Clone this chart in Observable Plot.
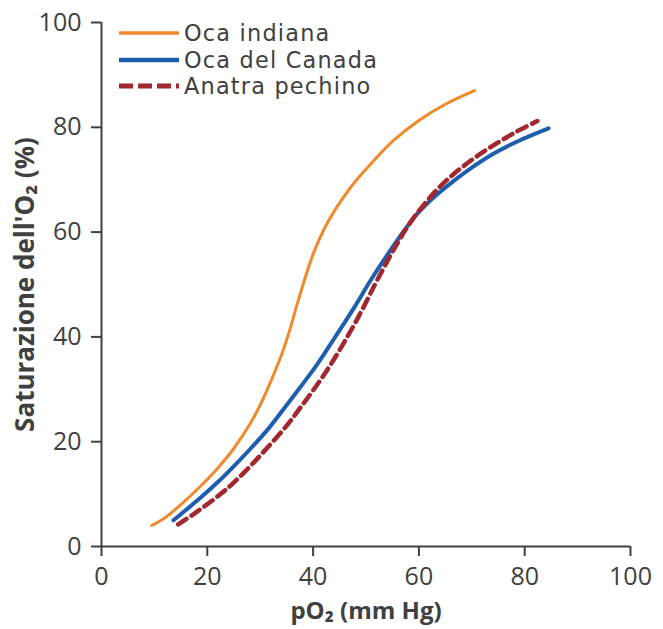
<!DOCTYPE html>
<html>
<head>
<meta charset="utf-8">
<script src="https://cdn.jsdelivr.net/npm/d3@7"></script>
<script src="https://cdn.jsdelivr.net/npm/@observablehq/plot@0.6"></script>
<style>
  html, body { margin: 0; padding: 0; background: #fff; }
  #wrap { position: relative; width: 663px; height: 629px; font-family: "Open Sans", sans-serif; }
  #wrap svg { font-family: "Open Sans", sans-serif; }
  #wrap [aria-label="x-axis label"] text, #wrap [aria-label="y-axis label"] text { font-weight: bold; }
  #legend { position: absolute; left: 118px; top: 20px; font-family: "DejaVu Sans", sans-serif; font-size: 22.4px; letter-spacing: 1.2px; color: #404040; line-height: 26.5px; }
  #legend .row { display: flex; align-items: center; height: 26.5px; }
  #legend svg { margin-right: 4px; }
</style>
</head>
<body>
<div id="wrap"><div id="legend"></div></div>
<script>
const xTicks = [0, 20, 40, 60, 80, 100];
const yTicks = [0, 20, 40, 60, 80, 100];
const seriesNames = ["Oca indiana", "Oca del Canada", "Anatra pechino"];

const ocaIndiana = [[9.5,4],[12,5.5],[15,8],[18.7,11.5],[22,15],[25,18.7],[28.2,23.6],[30,27],[32,31.5],[34,36.5],[35.5,41],[37,46.3],[38.5,51.3],[40,55.8],[42,60.4],[44,64],[46,67],[48,69.7],[50,72],[55,77.3],[60,81.3],[65,84.4],[70.5,87]];
const ocaCanada = [[13.6,5],[16,7],[18.7,9.3],[21.9,12.2],[25,15.3],[28.2,18.7],[31.4,22.3],[34.4,26.2],[37.5,30.3],[40.8,34.8],[44,39.7],[47.7,45.5],[51,51],[54.6,56.5],[57,60],[59.7,63.5],[63,66.8],[66,69.3],[70,72.3],[74,74.9],[78.6,77.3],[84.5,79.8]];
const anatraPechino = [[14.5,4.2],[18,6.6],[22.5,10],[25,12.2],[28,15.2],[31.3,18.8],[35.2,23.3],[37.6,26.5],[40.5,30.5],[43.5,35],[47.7,42.2],[50.2,47],[52.1,50.8],[55.9,57.8],[58.5,62],[61,65.3],[64,68.7],[67.2,71.6],[71,74.5],[74.8,77],[78.5,79.2],[82.4,81.2]];

const colors = ["#F08A2C", "#1E5EAE", "#A0282E"];
const widths = [3, 4, 4.5];
const dashes = [null, null, "10,6"];

const toRows = (arr) => arr.map(([x, y]) => ({x, y}));

const chart = Plot.plot({
  width: 663,
  height: 629,
  marginLeft: 101,
  marginRight: 33,
  marginTop: 22,
  marginBottom: 83,
  style: {fontSize: "25px", color: "#404040", background: "#fff"},
  x: {domain: [0, 100]},
  y: {domain: [0, 100]},
  marks: [
    Plot.axisX({ticks: xTicks, tickSize: 10, tickPadding: 11, fontSize: 25, stroke: "#404040", strokeWidth: 2,
      label: "pO₂ (mm Hg)", labelAnchor: "center", labelArrow: "none", labelOffset: 72}),
    Plot.axisY({ticks: yTicks, tickSize: 10, tickPadding: 10, fontSize: 25, stroke: "#404040", strokeWidth: 2,
      label: "Saturazione dell'O₂ (%)", labelAnchor: "center", labelArrow: "none", labelOffset: 86}),
    Plot.ruleX([0], {stroke: "#404040", strokeWidth: 2}),
    Plot.ruleY([0], {stroke: "#404040", strokeWidth: 2}),
    Plot.line(toRows(ocaIndiana), {x: "x", y: "y", curve: "catmull-rom", stroke: colors[0], strokeWidth: widths[0]}),
    Plot.line(toRows(ocaCanada), {x: "x", y: "y", curve: "catmull-rom", stroke: colors[1], strokeWidth: widths[1]}),
    Plot.line(toRows(anatraPechino), {x: "x", y: "y", curve: "catmull-rom", stroke: colors[2], strokeWidth: widths[2], strokeDasharray: dashes[2]})
  ]
});
document.getElementById("wrap").prepend(chart);
chart.querySelectorAll('[aria-label="x-axis label"] text').forEach(t => t.setAttribute("font-size", "24"));
chart.querySelectorAll('[aria-label="y-axis label"] text').forEach(t => t.setAttribute("font-size", "26"));

const legend = document.getElementById("legend");
const legendDash = "14,5";
seriesNames.forEach((name, i) => {
  const row = document.createElement("div");
  row.className = "row";
  row.innerHTML = `<svg width="62" height="10"><line x1="1" y1="5" x2="61" y2="5" stroke="${colors[i]}" stroke-width="${widths[i] + 0.5}" ${dashes[i] ? `stroke-dasharray="${legendDash}"` : ""}/></svg><span>${name}</span>`;
  legend.appendChild(row);
});
</script>
</body>
</html>
